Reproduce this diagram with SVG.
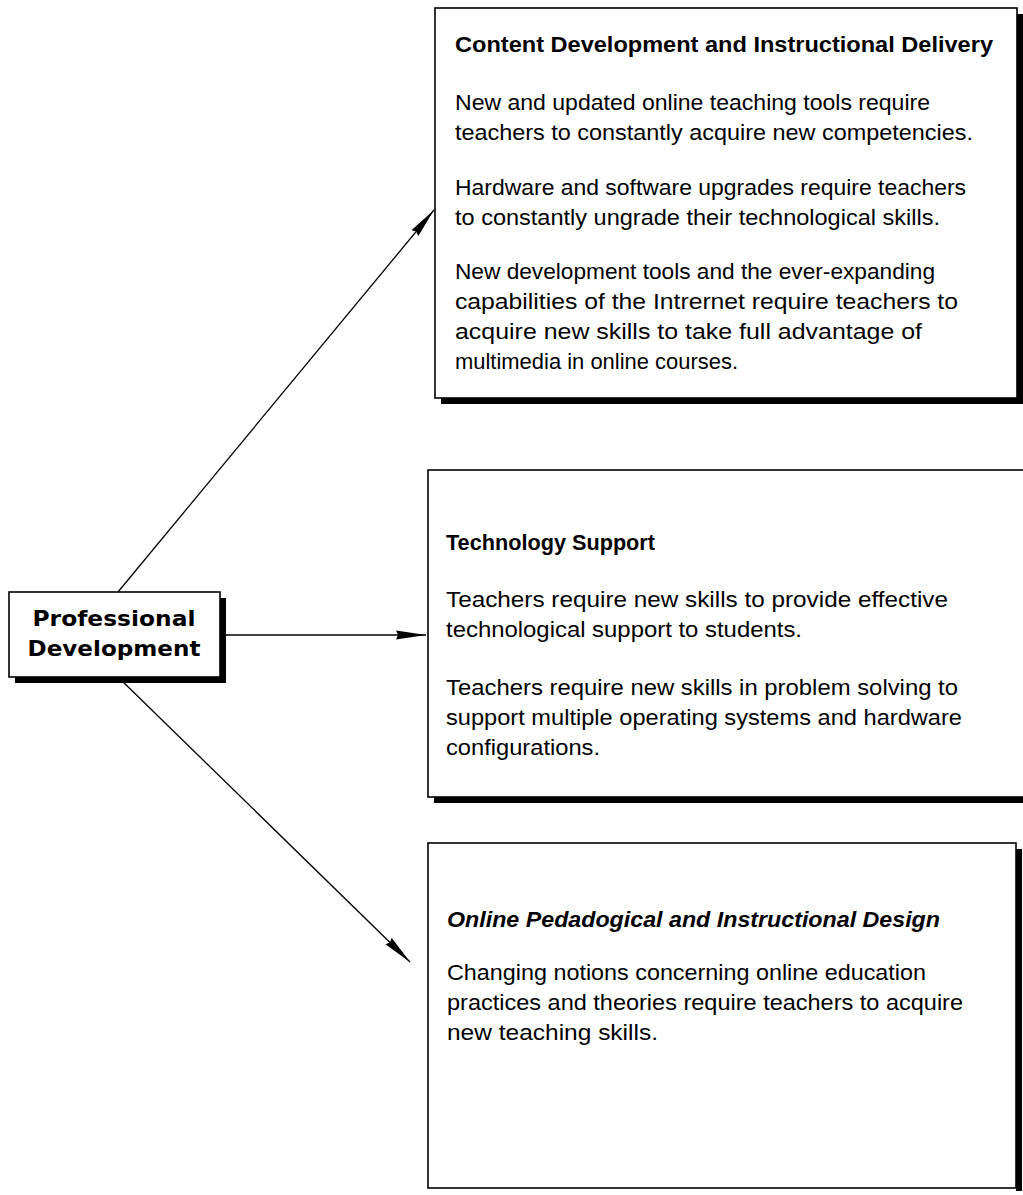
<svg xmlns="http://www.w3.org/2000/svg" width="1023" height="1195" viewBox="0 0 1023 1195">
  <defs>
    <marker id="dart" viewBox="0 0 30 12" refX="30" refY="6" markerWidth="30" markerHeight="12" markerUnits="userSpaceOnUse" orient="auto">
      <path d="M0,1.5 L30,6 L0,10.5 L2,6 z" fill="#000"/>
    </marker>
  </defs>
  <style>
    .box { fill: #fff; stroke: #000; stroke-width: 1.6; }
    .shadow { fill: #000; }
    .title { font-family: "Liberation Sans", Arial, sans-serif; font-weight: bold; font-size: 22px; fill: #000; }
    .body { font-family: "Liberation Sans", Arial, sans-serif; font-size: 22px; fill: #000; }
    .hub { font-family: "DejaVu Sans", Verdana, sans-serif; font-weight: bold; font-size: 22px; fill: #000; }
    .link { fill: none; stroke: #000; stroke-width: 1.3; marker-end: url(#dart); }
  </style>
  <rect width="1023" height="1195" fill="#fff"/>

  <!-- connectors -->
  <g id="connectors">
    <path class="link" d="M118,592 L434,210"/>
    <path class="link" d="M220,635 L426,635"/>
    <path class="link" d="M118,677 L410,962"/>
  </g>

  <!-- hub -->
  <g id="professional-development">
    <rect class="shadow" x="15" y="598" width="211" height="85"/>
    <rect class="box" x="9" y="592" width="211" height="85" stroke-width="2"/>
    <text class="hub" x="114" y="626" text-anchor="middle" textLength="163" lengthAdjust="spacingAndGlyphs">Professional</text>
    <text class="hub" x="114" y="656" text-anchor="middle" textLength="173" lengthAdjust="spacingAndGlyphs">Development</text>
  </g>

  <!-- content development -->
  <g id="content-development">
    <rect class="shadow" x="441" y="14" width="582" height="390"/>
    <rect class="box" x="435" y="8" width="582" height="390"/>
    <text class="title" x="455" y="52" textLength="538" lengthAdjust="spacingAndGlyphs">Content Development and Instructional Delivery</text>
    <text class="body" x="455" y="110" textLength="475" lengthAdjust="spacingAndGlyphs">New and updated online teaching tools require</text>
    <text class="body" x="455" y="140" textLength="518" lengthAdjust="spacingAndGlyphs">teachers to constantly acquire new competencies.</text>
    <text class="body" x="455" y="195" textLength="511" lengthAdjust="spacingAndGlyphs">Hardware and software upgrades require teachers</text>
    <text class="body" x="455" y="225" textLength="485" lengthAdjust="spacingAndGlyphs">to constantly ungrade their technological skills.</text>
    <text class="body" x="455" y="279" textLength="480" lengthAdjust="spacingAndGlyphs">New development tools and the ever-expanding</text>
    <text class="body" x="455" y="309" textLength="503" lengthAdjust="spacingAndGlyphs">capabilities of the Intrernet require teachers to</text>
    <text class="body" x="455" y="339" textLength="467" lengthAdjust="spacingAndGlyphs">acquire new skills to take full advantage of</text>
    <text class="body" x="455" y="369" textLength="283" lengthAdjust="spacingAndGlyphs">multimedia in online courses.</text>
  </g>

  <!-- technology support -->
  <g id="technology-support">
    <rect class="shadow" x="434" y="476" width="595" height="327"/>
    <rect class="box" x="428" y="470" width="600" height="327"/>
    <text class="title" x="446" y="550" textLength="209" lengthAdjust="spacingAndGlyphs">Technology Support</text>
    <text class="body" x="446" y="607" textLength="502" lengthAdjust="spacingAndGlyphs">Teachers require new skills to provide effective</text>
    <text class="body" x="446" y="637" textLength="356" lengthAdjust="spacingAndGlyphs">technological support to students.</text>
    <text class="body" x="446" y="695" textLength="512" lengthAdjust="spacingAndGlyphs">Teachers require new skills in problem solving to</text>
    <text class="body" x="446" y="725" textLength="516" lengthAdjust="spacingAndGlyphs">support multiple operating systems and hardware</text>
    <text class="body" x="446" y="755" textLength="154" lengthAdjust="spacingAndGlyphs">configurations.</text>
  </g>

  <!-- online pedagogy -->
  <g id="online-pedagogy">
    <rect class="shadow" x="1016" y="849" width="6" height="342"/>
    <rect class="box" x="428" y="843" width="588" height="345"/>
    <text class="title" x="447" y="927" font-style="italic" textLength="493" lengthAdjust="spacingAndGlyphs">Online Pedadogical and Instructional Design</text>
    <text class="body" x="447" y="980" textLength="479" lengthAdjust="spacingAndGlyphs">Changing notions concerning online education</text>
    <text class="body" x="447" y="1010" textLength="516" lengthAdjust="spacingAndGlyphs">practices and theories require teachers to acquire</text>
    <text class="body" x="447" y="1040" textLength="211" lengthAdjust="spacingAndGlyphs">new teaching skills.</text>
  </g>
</svg>
